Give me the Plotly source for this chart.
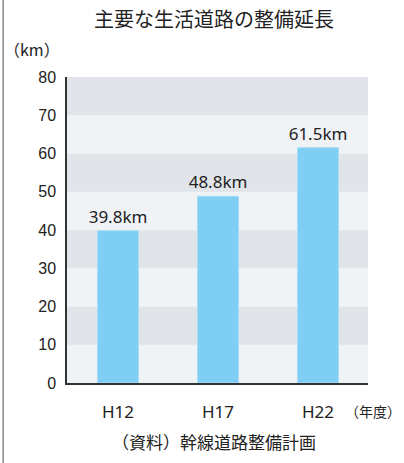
import plotly.graph_objects as go

years = ["H12", "H17", "H22"]
lengths = [39.8, 48.8, 61.5]
labels = ["39.8km", "48.8km", "61.5km"]
y_ticks = [0, 10, 20, 30, 40, 50, 60, 70, 80]

jp_font = "Noto Sans CJK JP"
num_font = "Liberation Sans Narrow, Arial Narrow, Liberation Sans"

fig = go.Figure()
fig.add_trace(go.Bar(
    x=years,
    y=lengths,
    width=0.41,
    marker=dict(color="#7fcef3", line=dict(color="#a6dcf6", width=1)),
    text=labels,
    textposition="outside",
    constraintext="none",
    textfont=dict(size=17, color="#222222", family="Noto Sans"),
    cliponaxis=False,
    showlegend=False,
))

# alternating background bands
shapes = []
for i, lo in enumerate(y_ticks[:-1]):
    shapes.append(dict(
        type="rect", xref="paper", yref="y", x0=0, x1=1, y0=lo, y1=lo + 10,
        fillcolor="#f0f3f6" if i % 2 == 0 else "#e1e5e9",
        line=dict(width=0), layer="below",
    ))
# left frame line
shapes.append(dict(
    type="line", xref="paper", yref="paper", x0=-0.212, x1=-0.212, y0=-0.27, y1=1.26,
    line=dict(color="#8a8a8a", width=1.5),
))
fig.update_layout(shapes=shapes)

fig.add_annotation(text="主要な生活道路の整備延長", xref="paper", yref="paper",
                   x=0.49, y=1.19, xanchor="center", yanchor="middle",
                   showarrow=False, font=dict(size=20, color="#222222", family=jp_font))
fig.add_annotation(text="（km）", xref="paper", yref="paper",
                   x=-0.215, y=1.09, xanchor="left", yanchor="middle",
                   showarrow=False, font=dict(size=16, color="#222222", family=jp_font))
fig.add_annotation(text="（年度）", xref="paper", yref="paper",
                   x=1.116, y=-0.092, xanchor="right", yanchor="middle",
                   showarrow=False, font=dict(size=14, color="#222222", family=jp_font))
fig.add_annotation(text="（資料）幹線道路整備計画", xref="paper", yref="paper",
                   x=0.49, y=-0.19, xanchor="center", yanchor="middle",
                   showarrow=False, font=dict(size=17, color="#222222", family=jp_font))

fig.update_layout(
    width=404,
    height=463,
    paper_bgcolor="white",
    plot_bgcolor="#f0f3f6",
    margin=dict(l=67, r=36, t=77, b=80),
    xaxis=dict(
        range=[-0.51, 2.5],
        showgrid=False, zeroline=False,
        showline=True, linecolor="#333333", linewidth=1.5,
        ticks="", ticklabelstandoff=13,
        tickfont=dict(size=17, color="#222222", family="Noto Sans"),
    ),
    yaxis=dict(
        range=[0, 80], tickvals=y_ticks,
        showgrid=False, zeroline=False,
        showline=True, linecolor="#333333", linewidth=1.5,
        ticks="", ticklabelstandoff=6,
        tickfont=dict(size=16, color="#222222", family=num_font),
    ),
)

fig.write_html("out.html", config={"displayModeBar": False},
               post_script="document.body.style.margin='0';")
